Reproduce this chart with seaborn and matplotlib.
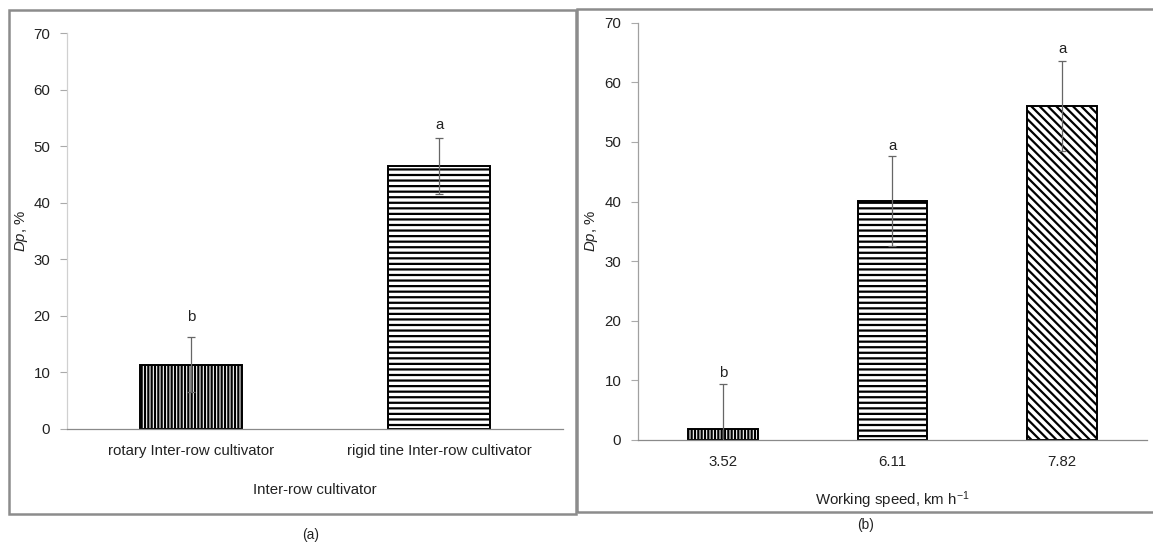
"""
Redraw the two-panel Dp bar chart (inter-row cultivator type and working speed).
"""

import matplotlib

matplotlib.use("Agg")

import matplotlib.pyplot as plt
import pandas as pd
import seaborn as sns
from matplotlib import font_manager
from matplotlib.patches import Rectangle

# panel (a): cultivator type
CULTIVATORS = ["rotary Inter-row cultivator", "rigid tine Inter-row cultivator"]
DP_CULT = [11.4, 46.5]
ERR_CULT = [4.8, 4.9]
LETTERS_CULT = ["b", "a"]
LETTER_Y_CULT = [19.8, 53.8]

# panel (b): working speed
SPEEDS = ["3.52", "6.11", "7.82"]
DP_SPEED = [1.9, 40.1, 56.0]
ERR_SPEED = [7.5, 7.6, 7.5]
LETTERS_SPEED = ["b", "a", "a"]
LETTER_Y_SPEED = [11.3, 49.3, 65.6]

Y_TICKS = [0, 10, 20, 30, 40, 50, 60, 70]

sns.set_theme(style="white")

names = {f.name for f in font_manager.fontManager.ttflist}
if "Liberation Sans Narrow" in names:
    FONT = "Liberation Sans Narrow"
    SIZE = 12.5
else:
    FONT = "Liberation Sans"
    SIZE = 10.8

plt.rcParams["font.family"] = [FONT, "DejaVu Sans"]
plt.rcParams["mathtext.fontset"] = "custom"
plt.rcParams["mathtext.rm"] = FONT
plt.rcParams["mathtext.it"] = FONT + ":italic"
plt.rcParams["hatch.linewidth"] = 1.6
plt.rcParams["hatch.color"] = "black"

TEXT = "#222222"


def draw_panel(ax, cats, values, errs, letters, letter_y, hatches, xlabel, yaxis_color):
    """
    Draw one bar panel with hatched bars, error bars and letter marks.
    """
    df = pd.DataFrame({"cat": cats, "dp": values})
    sns.barplot(
        data=df, x="cat", y="dp", ax=ax, color="white", edgecolor="black",
        linewidth=1.4, width=0.41, errorbar=None, saturation=1,
    )
    for patch, hatch in zip(ax.patches, hatches):
        patch.set_hatch(hatch)

    pos = range(len(cats))
    ax.errorbar(
        pos, values, yerr=errs, fmt="none", ecolor="#666666",
        elinewidth=0.9, capsize=3, capthick=0.9, zorder=5,
    )
    for x, lab, y in zip(pos, letters, letter_y):
        ax.text(x, y, lab, ha="center", va="center", fontsize=SIZE, color=TEXT)

    ax.set_ylim(0, 70)
    ax.set_xlim(-0.5, len(cats) - 0.5)
    ax.set_yticks(Y_TICKS)
    ax.set_xticks([i - 0.5 for i in range(len(cats) + 1)], minor=True)
    ax.tick_params(axis="x", which="major", length=0, pad=11, labelsize=SIZE, labelcolor=TEXT)
    ax.tick_params(axis="x", which="minor", length=5, width=0.8, color="#aaaaaa", direction="out")
    ax.tick_params(axis="y", length=5, width=0.8, color="#aaaaaa", direction="out",
                   pad=7, labelsize=SIZE, labelcolor=TEXT, left=True)

    for side in ["top", "right"]:
        ax.spines[side].set_visible(False)
    ax.spines["left"].set_color(yaxis_color)
    ax.spines["left"].set_linewidth(0.9)
    ax.spines["bottom"].set_color("#8a8a8a")
    ax.spines["bottom"].set_linewidth(0.9)

    ax.set_xlabel(xlabel, fontsize=SIZE, color=TEXT)
    ax.set_ylabel(r"$\it{Dp}$, %", fontsize=SIZE, color=TEXT)


fig = plt.figure(figsize=(11.53, 5.44), dpi=100)

ax_a = fig.add_axes([0.0581, 0.2114, 0.4302, 0.7279])
ax_b = fig.add_axes([0.5533, 0.1912, 0.4415, 0.7671])

draw_panel(ax_a, CULTIVATORS, DP_CULT, ERR_CULT, LETTERS_CULT, LETTER_Y_CULT,
           ["|||||", "---"], "Inter-row cultivator", "#d0d0d0")
draw_panel(ax_b, SPEEDS, DP_SPEED, ERR_SPEED, LETTERS_SPEED, LETTER_Y_SPEED,
           ["|||||", "---", "\\\\\\\\"], r"Working speed, km h$^{-1}$", "#a0a0a0")

ax_a.xaxis.set_label_coords(0.5, -0.137)
ax_a.yaxis.set_label_coords(-0.075, 0.5)
ax_b.xaxis.set_label_coords(0.5, -0.118)
ax_b.yaxis.set_label_coords(-0.075, 0.5)

# outer frames around each panel
W, H = 1153, 544
fig.patches.append(Rectangle((9 / W, 1 - 514 / H), 567 / W, 504 / H, transform=fig.transFigure,
                             fill=False, edgecolor="#8c8c8c", linewidth=1.8))
fig.patches.append(Rectangle((577 / W, 1 - 512 / H), 600 / W, 503 / H, transform=fig.transFigure,
                             fill=False, edgecolor="#8c8c8c", linewidth=1.8))

fig.text(311 / W, 1 - 535 / H, "(a)", ha="center", va="center", fontsize=SIZE - 1, color=TEXT)
fig.text(866 / W, 1 - 525 / H, "(b)", ha="center", va="center", fontsize=SIZE - 1, color=TEXT)

fig.savefig("out.png", dpi=100)
